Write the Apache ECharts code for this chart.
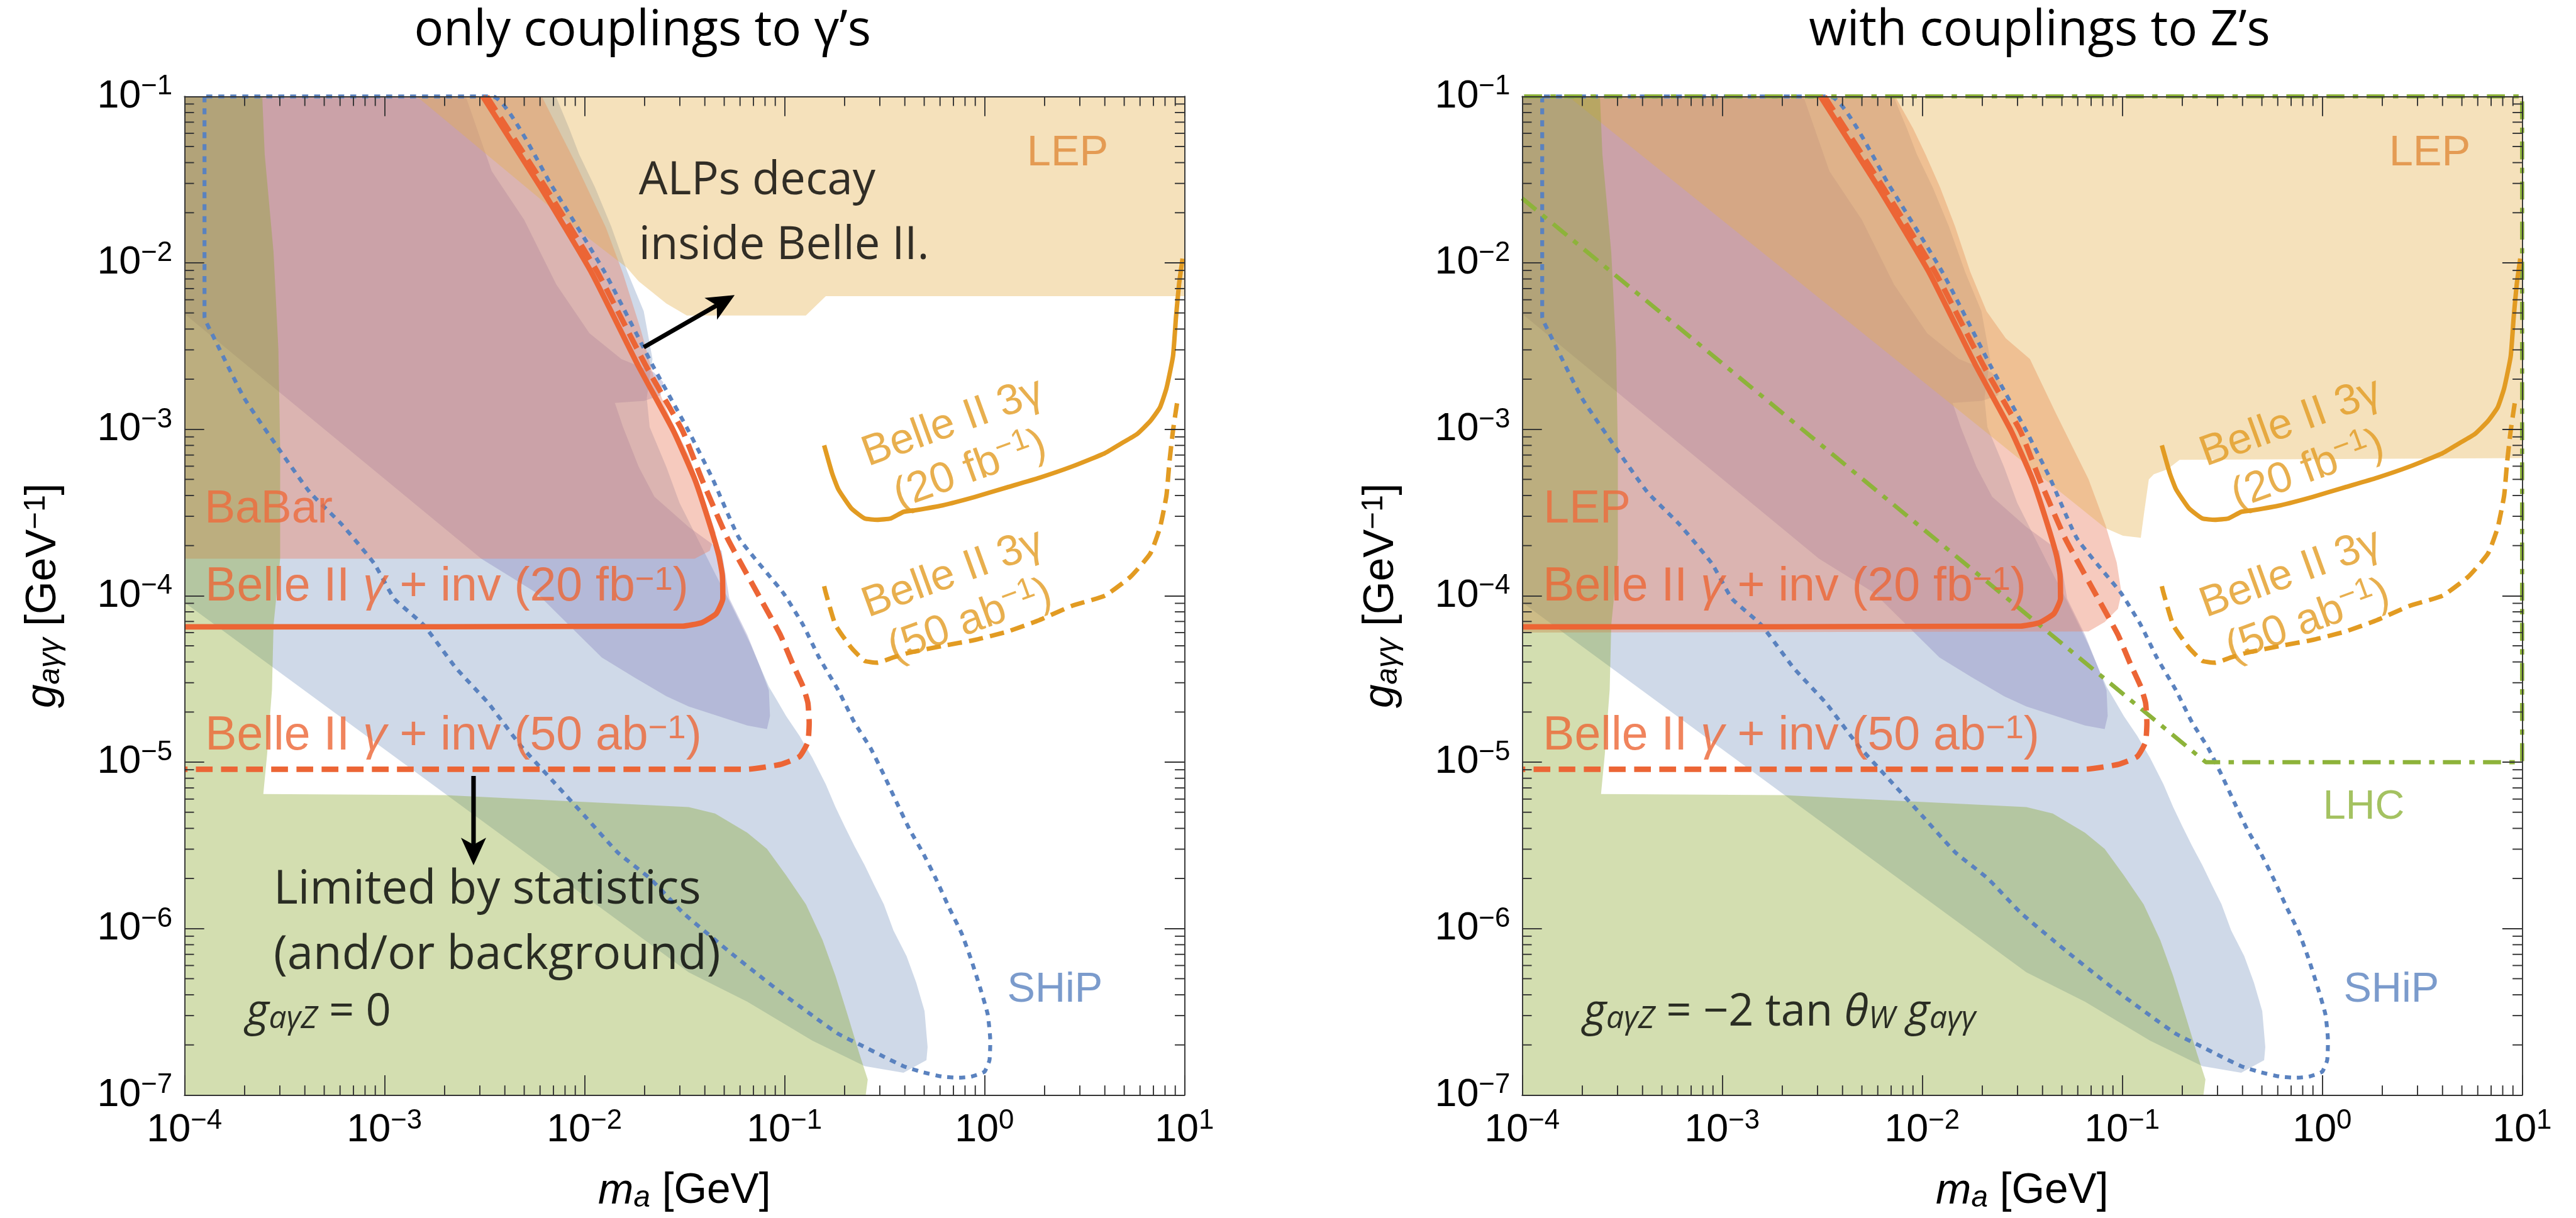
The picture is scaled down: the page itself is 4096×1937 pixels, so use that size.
<!DOCTYPE html>
<html>
<head>
<meta charset="utf-8">
<title>ALP sensitivity: photon and Z couplings</title>
<script src="https://cdn.jsdelivr.net/npm/echarts/dist/echarts.min.js"></script>
<style>
html, body { margin: 0; padding: 0; background: #ffffff; }
#chart { width: 4096px; height: 1937px; }
</style>
</head>
<body>
<div id="chart"></div>
<script>
// All sizes are written for a 4302 px wide canvas and scaled to the page.
const S = 4096 / 4302;
const px = v => v * S;

// ---------- axes ----------
const massRange = [1e-4, 10];
const couplingRange = [1e-7, 1e-1];
const massDecades = [1e-4, 1e-3, 1e-2, 1e-1, 1];
const couplingDecades = [1e-7, 1e-6, 1e-5, 1e-4, 1e-3, 1e-2];
const minorSteps = [2, 3, 4, 5, 6, 7, 8, 9];

// ---------- shaded regions: [m_a in GeV, g in GeV^-1] ----------
const blueRegion = [
  [1e-4, 1e-1], [7.2e-3, 1e-1], [8.4e-3, 6.4e-2], [9.4e-3, 4.5e-2], [1.13e-2, 2.84e-2],
  [1.36e-2, 1.66e-2], [1.64e-2, 8.83e-3], [1.98e-2, 5.12e-3], [2.19e-2, 2.64e-3], [2.05e-2, 1.54e-3],
  [2.12e-2, 1.03e-3], [2.57e-2, 5.93e-4], [2.99e-2, 3.61e-4], [3.68e-2, 2.20e-4], [4.53e-2, 1.34e-4],
  [5.35e-2, 9.12e-5], [6.08e-2, 6.67e-5], [6.79e-2, 5.07e-5], [7.59e-2, 3.70e-5], [8.36e-2, 2.84e-5],
  [9.14e-2, 2.37e-5], [0.102, 1.89e-5], [0.119, 1.44e-5], [0.138, 1.06e-5], [0.161, 7.36e-6],
  [0.180, 5.37e-6], [0.200, 4.12e-6], [0.224, 3.13e-6], [0.252, 2.40e-6], [0.281, 1.83e-6],
  [0.314, 1.40e-6], [0.351, 9.75e-7], [0.408, 6.84e-7], [0.456, 4.74e-7], [0.502, 3.19e-7],
  [0.520, 1.94e-7], [0.513, 1.62e-7], [0.394, 1.36e-7], [0.252, 1.49e-7], [0.138, 2.12e-7],
  [6.52e-2, 3.64e-7], [3.32e-2, 5.46e-7], [2.02e-3, 6.44e-6], [1e-4, 9.12e-5]
];
const violetRegion = [
  [1e-4, 1e-1], [2.55e-3, 1e-1], [3.44e-3, 3.55e-2], [4.99e-3, 1.82e-2], [7.23e-3, 7.43e-3],
  [1.06e-2, 3.77e-3], [1.53e-2, 2.64e-3], [2.22e-2, 2.20e-3], [2.48e-2, 1.92e-3], [2.40e-2, 1.60e-3],
  [1.99e-2, 1.48e-3], [1.42e-2, 1.44e-3], [1.56e-2, 1.03e-3], [1.87e-2, 5.93e-4], [2.24e-2, 3.93e-4],
  [3.32e-2, 2.59e-4], [4.85e-2, 1.86e-4], [5.31e-2, 9.60e-5], [6.52e-2, 5.83e-5], [7.59e-2, 3.70e-5],
  [8.36e-2, 2.70e-5], [8.47e-2, 1.89e-5], [8.18e-2, 1.58e-5], [6.52e-2, 1.66e-5], [3.32e-2, 2.16e-5],
  [2.57e-2, 2.49e-5], [1.77e-2, 3.24e-5], [1.22e-2, 4.26e-5], [5.75e-3, 1.04e-4], [3.05e-3, 1.67e-4],
  [1e-4, 4.94e-3]
];
const greenRegion = [
  [1e-4, 1e-1], [2.45e-4, 1e-1], [2.52e-4, 4.48e-2], [2.79e-4, 1.16e-2], [2.95e-4, 3.01e-3],
  [3.01e-4, 7.80e-4], [3.01e-4, 1.67e-4], [2.79e-4, 6.67e-5], [2.74e-4, 2.72e-5], [2.59e-4, 1.11e-5],
  [2.48e-4, 6.44e-6], [2.02e-3, 6.34e-6], [3.32e-2, 5.37e-6], [4.50e-2, 4.91e-6], [6.52e-2, 3.77e-6],
  [8.18e-2, 3.01e-6], [0.102, 2.09e-6], [0.128, 1.40e-6], [0.155, 8.55e-7], [0.180, 5.20e-7],
  [0.207, 3.03e-7], [0.237, 1.77e-7], [0.261, 1.24e-7], [0.255, 1e-7], [1e-4, 1e-7]
];
// BaBar (photon couplings only)
const babarRegion = [
  [1e-4, 1e-1], [6.12e-3, 1e-1], [8.95e-3, 4.06e-2], [1.28e-2, 1.63e-2], [1.56e-2, 8.61e-3],
  [1.91e-2, 3.99e-3], [2.27e-2, 1.89e-3], [2.70e-2, 1.15e-3], [3.32e-2, 7.00e-4], [3.94e-2, 3.93e-4],
  [4.53e-2, 2.39e-4], [4.23e-2, 1.86e-4], [3.56e-2, 1.67e-4], [1e-4, 1.67e-4]
];
// LEP, photon couplings only
const lepPhotonRegion = [
  [1.45e-3, 1e-1], [10, 1e-1], [10, 6.30e-3], [0.161, 6.30e-3], [0.128, 4.82e-3],
  [3.25e-2, 4.82e-3], [2.57e-2, 5.69e-3], [1.87e-2, 7.73e-3], [1.63e-2, 9.35e-3], [8.77e-3, 1.66e-2]
];
// LEP mono-photon, with Z couplings
const lepInvisibleRegion = [
  [1e-4, 1e-1], [7.33e-3, 1e-1], [9.02e-3, 6.40e-2], [1.04e-2, 4.48e-2], [1.23e-2, 2.84e-2],
  [1.46e-2, 1.66e-2], [1.74e-2, 8.83e-3], [2.10e-2, 5.12e-3], [2.62e-2, 3.52e-3], [3.46e-2, 2.64e-3],
  [4.69e-2, 1.23e-3], [5.64e-2, 7.87e-4], [6.79e-2, 5.02e-4], [8.24e-2, 2.68e-4], [9.40e-2, 1.58e-4],
  [9.93e-2, 1.04e-4], [9.53e-2, 8.34e-5], [8.18e-2, 6.95e-5], [6.79e-2, 6.1e-5], [1e-4, 6.0e-5]
];
// LEP, with Z couplings
const lepZRegion = [
  [1.70e-4, 1e-1], [10, 1e-1], [10, 6.71e-4], [0.194, 6.56e-4], [0.168, 5.74e-4],
  [0.144, 5.37e-4], [0.136, 4.99e-4], [0.129, 3.19e-4], [0.124, 2.23e-4], [0.101, 2.29e-4],
  [8.24e-2, 2.55e-4]
];

// ---------- sensitivity curves ----------
const belleInv20 = [
  [3.10e-3, 1e-1], [6.00e-3, 2.88e-2], [1.08e-2, 8.83e-3], [1.85e-2, 2.43e-3], [2.79e-2, 9.75e-4],
  [3.56e-2, 5.02e-4], [4.11e-2, 3.0e-4], [4.69e-2, 1.76e-4], [4.89e-2, 1.34e-4], [4.92e-2, 9.6e-5],
  [4.56e-2, 7.8e-5], [3.86e-2, 6.89e-5], [3.10e-2, 6.56e-5], [1e-4, 6.5e-5]
];
const belleInv50 = [
  [3.25e-3, 1e-1], [6.34e-3, 2.88e-2], [1.16e-2, 8.83e-3], [2.02e-2, 2.43e-3], [3.10e-2, 9.75e-4],
  [3.86e-2, 5.02e-4], [5.2e-2, 2.2e-4], [7.59e-2, 9.6e-5], [9.53e-2, 5.83e-5], [0.110, 3.89e-5],
  [0.124, 2.84e-5], [0.131, 2.27e-5], [0.133, 1.73e-5], [0.131, 1.32e-5], [0.119, 1.08e-5],
  [9.53e-2, 9.68e-6], [6.52e-2, 9.06e-6], [1e-4, 9.06e-6]
];
const belle3g20 = [
  [0.158, 8.0e-4], [0.173, 5.46e-4], [0.186, 4.36e-4], [0.216, 3.35e-4], [0.252, 2.91e-4],
  [0.291, 2.86e-4], [0.339, 2.91e-4], [0.394, 3.19e-4], [0.456, 3.27e-4], [0.617, 3.49e-4],
  [0.895, 3.92e-4], [1.30, 4.48e-4], [1.88, 5.11e-4], [2.75, 5.98e-4], [4.00, 7.18e-4],
  [4.82, 8.20e-4], [5.80, 9.36e-4], [6.75, 1.12e-3], [7.54, 1.35e-3], [8.13, 1.76e-3],
  [8.77, 2.75e-3], [9.08, 4.74e-3], [9.40, 7.43e-3], [9.79, 1.06e-2]
];
const belle3g50 = [
  [0.158, 1.14e-4], [0.161, 1.04e-4], [0.180, 6.67e-5], [0.216, 4.87e-5], [0.252, 4.06e-5],
  [0.291, 3.96e-5], [0.351, 4.26e-5], [0.423, 4.55e-5], [0.617, 4.99e-5], [0.895, 5.42e-5],
  [1.30, 6.08e-5], [1.88, 7.13e-5], [2.74, 8.69e-5], [4.00, 1.0e-4], [5.38, 1.30e-4],
  [6.75, 1.79e-4], [7.54, 2.55e-4], [8.13, 3.99e-4], [8.41, 6.30e-4], [8.77, 9.84e-4], [9.27, 1.54e-3]
];
const shipReach = [
  [1.26e-4, 1e-1], [1.26e-4, 4.74e-3], [1.37e-4, 3.77e-3], [1.99e-4, 1.54e-3], [2.91e-4, 7.87e-4],
  [4.23e-4, 4.19e-4], [6.12e-4, 2.68e-4], [8.89e-4, 1.56e-4], [1.12e-3, 9.6e-5], [1.57e-3, 6.67e-5],
  [2.27e-3, 3.70e-5], [3.30e-3, 2.27e-5], [4.79e-3, 1.26e-5], [6.93e-3, 7.73e-6], [1.01e-2, 4.71e-6],
  [1.47e-2, 2.86e-6], [2.13e-2, 2.00e-6], [3.10e-2, 1.25e-6], [4.50e-2, 8.55e-7], [5.64e-2, 6.84e-7],
  [7.32e-2, 5.33e-7], [9.53e-2, 4.16e-7], [0.143, 2.91e-7], [0.186, 2.33e-7], [0.242, 1.99e-7],
  [0.314, 1.70e-7], [0.394, 1.49e-7], [0.492, 1.37e-7], [0.617, 1.29e-7], [0.743, 1.27e-7],
  [0.859, 1.29e-7], [1.0, 1.38e-7], [1.06, 1.62e-7], [1.07, 2.12e-7], [1.04, 3.03e-7],
  [0.966, 4.16e-7], [0.859, 6.50e-7], [0.769, 9.36e-7], [0.665, 1.34e-6], [0.571, 2.00e-6],
  [0.492, 2.86e-6], [0.423, 3.93e-6], [0.366, 5.65e-6], [0.314, 8.40e-6], [0.270, 1.21e-5],
  [0.224, 1.73e-5], [0.186, 2.70e-5], [0.149, 4.26e-5], [0.124, 6.67e-5], [9.86e-2, 1.04e-4],
  [5.96e-2, 2.2e-4], [4.38e-2, 5.02e-4], [3.32e-2, 9.75e-4], [2.19e-2, 2.43e-3], [1.26e-2, 8.83e-3],
  [6.89e-3, 2.88e-2], [3.46e-3, 1e-1], [1.26e-4, 1e-1]
];
const lhcBoundary = [[1e-4, 2.44e-2], [0.262, 1.0e-5], [10, 1.0e-5], [10, 1e-1], [1e-4, 1e-1]];

// ---------- annotation arrows: [tail, head] ----------
const decayArrow = [[1.98e-2, 3.11e-3], [5.64e-2, 6.4e-3]];
const statsArrow = [[2.79e-3, 8.26e-6], [2.79e-3, 2.40e-6]];

// ---------- label anchors ----------
const anchorBabar = [1.26e-4, 3.28e-4];
const anchorLepLow = [1.28e-4, 3.28e-4];
const anchorInv20 = [1.27e-4, 1.12e-4];
const anchorInv50 = [1.27e-4, 1.43e-5];
const anchorShipL = [1.30, 4.26e-7];
const anchorShipR = [1.28, 4.26e-7];
const anchorLepL = [1.63, 4.52e-2];
const anchorLepR = [2.16, 4.52e-2];
const anchorLhc = [1.01, 5.33e-6];
const anchor3g20 = [0.769, 7.87e-4];
const anchor3g50 = [0.769, 9.75e-5];
const anchorDecay = [1.87e-2, 1.97e-2];
const anchorStats = [2.79e-4, 1.08e-6];
const anchorCouplingL = [2.03e-4, 3.12e-7];
const anchorCouplingR = [2.02e-4, 3.12e-7];

// ---------- styles ----------
const SANS = '"Liberation Sans", Arial, Helvetica, sans-serif';
const HUMAN = '"Open Sans", Lato, "Noto Sans", sans-serif';
const RED = '#ec6535';
const BLUE = '#5a82bf';
const GOLD = '#e29b22';
const LHC_GREEN = '#8db33a';
const LEP_ORANGE = '#e0893a';
const FRAME = '#333333';

const plotLeft = [308, 2542];
const plotTop = 161, plotW = 1670, plotH = 1668;

function supStyle(f) {
  return { fontSize: px(0.7 * f), lineHeight: px(0.31 * f), verticalAlign: 'top' };
}

function expLabel(v) {
  const e = Math.round(Math.log10(v));
  return '{base|10}{sup|' + (e < 0 ? '\u2212' + (-e) : String(e)) + '}';
}
const tickRich = {
  base: { fontSize: px(66), lineHeight: px(78), fontFamily: SANS, color: '#000' },
  sup: { fontSize: px(46), lineHeight: px(40), verticalAlign: 'top', fontFamily: SANS, color: '#000' }
};
const nameRich = {
  n: { fontSize: px(71), lineHeight: px(74), fontFamily: SANS, color: '#000' },
  it: { fontSize: px(71), lineHeight: px(74), fontFamily: SANS, fontStyle: 'italic', color: '#000' },
  sb: { fontSize: px(50), lineHeight: px(30), verticalAlign: 'bottom', fontFamily: SANS, fontStyle: 'italic', color: '#000' },
  sp: { fontSize: px(50), lineHeight: px(30), verticalAlign: 'top', fontFamily: SANS, color: '#000' }
};

function xAxisDef(gi, top) {
  return {
    type: 'log', logBase: 10, gridIndex: gi, position: top ? 'top' : 'bottom',
    min: massRange[0], max: massRange[1], splitNumber: 5, z: 30,
    axisLine: { show: true, onZero: false, lineStyle: { color: FRAME, width: px(2) } },
    axisTick: { show: true, inside: true, length: px(33), lineStyle: { color: FRAME, width: px(2) } },
    minorTick: { show: false }, splitLine: { show: false },
    axisLabel: top ? { show: false } : {
      show: true, margin: px(20), formatter: expLabel, rich: tickRich,
      showMinLabel: true, showMaxLabel: true, hideOverlap: false
    },
    name: top ? '' : '{it|m}{sb|a}{n| [GeV]}',
    nameLocation: 'middle', nameGap: px(124), nameTextStyle: { rich: nameRich }
  };
}
function yAxisDef(gi, right) {
  return {
    type: 'log', logBase: 10, gridIndex: gi, position: right ? 'right' : 'left',
    min: couplingRange[0], max: couplingRange[1], splitNumber: 6, z: 30,
    axisLine: { show: true, onZero: false, lineStyle: { color: FRAME, width: px(2) } },
    axisTick: { show: true, inside: true, length: px(33), lineStyle: { color: FRAME, width: px(2) } },
    minorTick: { show: false }, splitLine: { show: false },
    axisLabel: right ? { show: false } : {
      show: true, margin: px(20), formatter: expLabel, rich: tickRich,
      showMinLabel: true, showMaxLabel: true, hideOverlap: false
    },
    name: right ? '' : '{it|g}{sb|a\u03b3\u03b3}{n| [GeV}{sp|\u22121}{n|]}',
    nameLocation: 'middle', nameRotate: 90, nameGap: px(198), nameTextStyle: { rich: nameRich }
  };
}

function regionSeries(gi, pts, fill, z) {
  return {
    type: 'custom', xAxisIndex: gi * 2, yAxisIndex: gi * 2, z, silent: true, clip: true,
    data: pts,
    renderItem(params, api) {
      if (params.dataIndex !== 0) return null;
      return { type: 'polygon', shape: { points: pts.map(p => api.coord(p)) }, style: { fill } };
    }
  };
}

function curveSeries(gi, pts, color, width, dash, smooth, clip) {
  return {
    type: 'line', xAxisIndex: gi * 2, yAxisIndex: gi * 2, data: pts, symbol: 'none',
    silent: true, z: 10, smooth: smooth, clip: clip,
    lineStyle: { color, width: px(width), type: dash ? dash.map(px) : 'solid', cap: 'butt', join: 'round' },
    emphasis: { disabled: true }
  };
}

function arrowSeries(gi, arrow) {
  const [tail, head] = arrow;
  return {
    type: 'custom', xAxisIndex: gi * 2, yAxisIndex: gi * 2, z: 15, silent: true,
    data: [tail, head],
    renderItem(params, api) {
      if (params.dataIndex !== 0) return null;
      const a = api.coord(tail), b = api.coord(head);
      const dx = b[0] - a[0], dy = b[1] - a[1], len = Math.hypot(dx, dy);
      const ux = dx / len, uy = dy / len;
      const hl = px(46), hw = px(21);
      const bx = b[0] - ux * hl, by = b[1] - uy * hl;
      const nx = b[0] - ux * hl * 0.75, ny = b[1] - uy * hl * 0.75;
      return {
        type: 'group', children: [
          { type: 'line', shape: { x1: a[0], y1: a[1], x2: nx, y2: ny }, style: { stroke: '#000', lineWidth: px(7.5) } },
          { type: 'polygon', shape: { points: [[b[0], b[1]], [bx - uy * hw, by + ux * hw], [nx, ny], [bx + uy * hw, by - ux * hw]] }, style: { fill: '#000' } }
        ]
      };
    }
  };
}

function tickSeries(gi) {
  const items = [];
  massDecades.forEach(d => minorSteps.forEach(k => items.push([d * k, couplingRange[0], 0])));
  couplingDecades.forEach(d => minorSteps.forEach(k => items.push([massRange[0], d * k, 1])));
  return {
    type: 'custom', xAxisIndex: gi * 2, yAxisIndex: gi * 2, z: 35, silent: true, clip: false,
    data: items,
    renderItem(params, api) {
      const cs = params.coordSys;
      const L = px(16);
      const st = { stroke: FRAME, lineWidth: px(2) };
      if (api.value(2) === 0) {
        const x = api.coord([api.value(0), couplingRange[0]])[0];
        return { type: 'group', children: [
          { type: 'line', shape: { x1: x, y1: cs.y + cs.height, x2: x, y2: cs.y + cs.height - L }, style: st },
          { type: 'line', shape: { x1: x, y1: cs.y, x2: x, y2: cs.y + L }, style: st }
        ] };
      }
      const y = api.coord([massRange[0], api.value(1)])[1];
      return { type: 'group', children: [
        { type: 'line', shape: { x1: cs.x, y1: y, x2: cs.x + L, y2: y }, style: st },
        { type: 'line', shape: { x1: cs.x + cs.width, y1: y, x2: cs.x + cs.width - L, y2: y }, style: st }
      ] };
    }
  };
}

function textSeries(gi, anchor, text, label) {
  return {
    type: 'scatter', xAxisIndex: gi * 2, yAxisIndex: gi * 2, z: 20, silent: true,
    symbolSize: 0, data: [anchor], emphasis: { disabled: true },
    label: Object.assign({
      show: true, position: [0, 0], align: 'left', verticalAlign: 'middle',
      formatter: () => text
    }, label)
  };
}

function coloredLabel(color, f) {
  return {
    color, fontFamily: SANS, fontSize: px(f), lineHeight: px(f),
    rich: {
      it: { fontStyle: 'italic', fontSize: px(f), lineHeight: px(f), color, fontFamily: SANS },
      sup: Object.assign(supStyle(f), { color, fontFamily: SANS })
    }
  };
}

const series = [];
[0, 1].forEach(gi => {
  const withZ = gi === 1;
  series.push(regionSeries(gi, blueRegion, 'rgba(118,146,189,0.35)', 1));
  series.push(regionSeries(gi, violetRegion, 'rgba(130,126,186,0.35)', 2));
  series.push(regionSeries(gi, withZ ? lepInvisibleRegion : babarRegion, 'rgba(235,133,105,0.43)', 3));
  series.push(regionSeries(gi, withZ ? lepZRegion : lepPhotonRegion, 'rgba(229,176,76,0.38)', 4));
  series.push(regionSeries(gi, greenRegion, 'rgba(136,166,42,0.37)', 5));

  series.push(curveSeries(gi, shipReach, BLUE, 6.5, [10, 10], 0.15, false));
  if (withZ) series.push(curveSeries(gi, lhcBoundary, LHC_GREEN, 7, [30, 14, 9, 14], 0, false));
  series.push(curveSeries(gi, belle3g20, GOLD, 7.5, null, 0.15, true));
  series.push(curveSeries(gi, belle3g50, GOLD, 7.5, [24, 12], 0.15, true));
  series.push(curveSeries(gi, belleInv50, RED, 9, [28, 14], 0.15, true));
  series.push(curveSeries(gi, belleInv20, RED, 9, null, 0.15, true));

  series.push(tickSeries(gi));

  // labels
  series.push(textSeries(gi, withZ ? anchorLepLow : anchorBabar, withZ ? 'LEP' : 'BaBar', coloredLabel('#ee6a3c', 77)));
  series.push(textSeries(gi, anchorInv20, 'Belle II {it|\u03b3} + inv (20 fb{sup|\u22121})', coloredLabel(RED, 79)));
  series.push(textSeries(gi, anchorInv50, 'Belle II {it|\u03b3} + inv (50 ab{sup|\u22121})', coloredLabel(RED, 79)));
  series.push(textSeries(gi, withZ ? anchorShipR : anchorShipL, 'SHiP', coloredLabel(BLUE, 70)));
  series.push(textSeries(gi, withZ ? anchorLepR : anchorLepL, 'LEP', coloredLabel(LEP_ORANGE, 72)));
  const g3 = coloredLabel(GOLD, 72);
  g3.lineHeight = px(84);
  g3.rich.sup = { fontSize: px(50), lineHeight: px(34), verticalAlign: 'top', color: GOLD, fontFamily: SANS };
  series.push(textSeries(gi, anchor3g20, 'Belle II 3\u03b3\n(20 fb{sup|\u22121})',
    Object.assign({}, g3, { align: 'center', rotate: 20 })));
  series.push(textSeries(gi, anchor3g50, 'Belle II 3\u03b3\n(50 ab{sup|\u22121})',
    Object.assign({}, g3, { align: 'center', rotate: 20 })));
  if (withZ) series.push(textSeries(gi, anchorLhc, 'LHC', coloredLabel(LHC_GREEN, 68)));

  const mathRich = {
    it: { fontFamily: HUMAN, fontStyle: 'italic', fontSize: px(74), lineHeight: px(74), color: '#000' },
    n: { fontFamily: HUMAN, fontSize: px(74), lineHeight: px(74), color: '#000' },
    sb: { fontFamily: HUMAN, fontStyle: 'italic', fontSize: px(52), lineHeight: px(30), verticalAlign: 'bottom', color: '#000' }
  };
  const couplingText = withZ
    ? '{it|g}{sb|a\u03b3Z}{n| = \u22122 tan }{it|\u03b8}{sb|W}{n| }{it|g}{sb|a\u03b3\u03b3}'
    : '{it|g}{sb|a\u03b3Z}{n| = 0}';
  series.push(textSeries(gi, withZ ? anchorCouplingR : anchorCouplingL, couplingText,
    { fontFamily: HUMAN, fontSize: px(74), lineHeight: px(74), color: '#000', rich: mathRich }));
});

// annotations of the photon-only panel
series.push(arrowSeries(0, decayArrow));
series.push(arrowSeries(0, statsArrow));
series.push(textSeries(0, anchorDecay, 'ALPs decay\ninside Belle II.',
  { fontFamily: HUMAN, fontSize: px(76), lineHeight: px(108), color: '#000' }));
series.push(textSeries(0, anchorStats, 'Limited by statistics\n(and/or background)',
  { fontFamily: HUMAN, fontSize: px(78), lineHeight: px(109), color: '#000' }));

const option = {
  animation: false,
  backgroundColor: '#ffffff',
  grid: plotLeft.map(l => ({
    left: px(l), top: px(plotTop), width: px(plotW), height: px(plotH),
    show: false, containLabel: false, outerBoundsMode: 'none'
  })),
  xAxis: [xAxisDef(0, false), xAxisDef(0, true), xAxisDef(1, false), xAxisDef(1, true)],
  yAxis: [yAxisDef(0, false), yAxisDef(0, true), yAxisDef(1, false), yAxisDef(1, true)],
  graphic: [
    { type: 'text', x: px(1073), y: px(52), silent: true,
      style: { text: 'only couplings to \u03b3\u2019s', fontFamily: HUMAN, fontSize: px(82), fill: '#000', align: 'center', verticalAlign: 'middle' } },
    { type: 'text', x: px(3406), y: px(52), silent: true,
      style: { text: 'with couplings to Z\u2019s', fontFamily: HUMAN, fontSize: px(82), fill: '#000', align: 'center', verticalAlign: 'middle' } }
  ],
  series
};

const chart = echarts.init(document.getElementById('chart'), null, { renderer: 'canvas', width: 4096, height: 1937 });
chart.setOption(option);
</script>
</body>
</html>
